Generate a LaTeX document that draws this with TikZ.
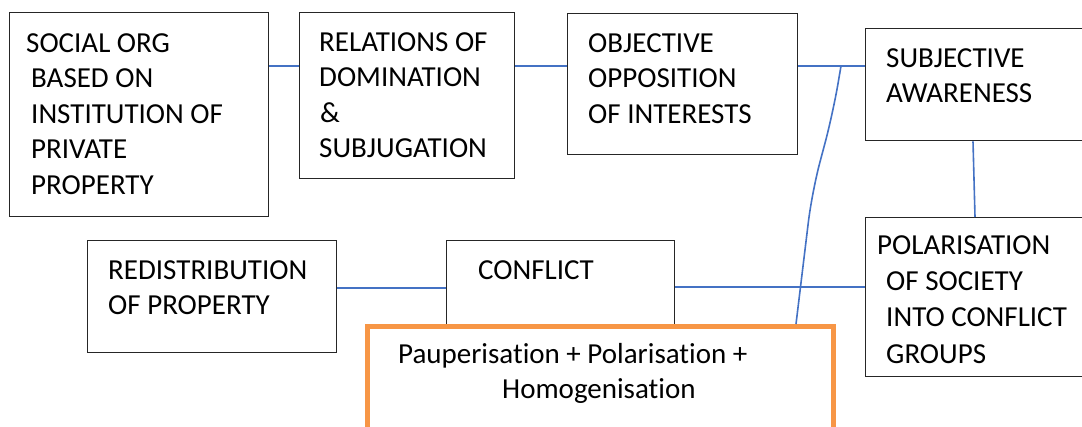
\documentclass[tikz,border=0pt]{standalone}
\usepackage{fontspec}
\setmainfont{Carlito}[Ligatures=NoCommon]
\usetikzlibrary{calc}
\definecolor{lblue}{HTML}{4472C4}
\definecolor{lorange}{HTML}{F79646}
\tikzset{
  box/.style={draw=black!85, line width=1.3pt, fill=white, anchor=north west, inner sep=0pt},
  obox/.style={draw=lorange, line width=5pt, fill=white, anchor=north west, inner sep=0pt},
  conn/.style={draw=lblue, line width=1.6pt},
  lbl/.style={anchor=north west, inner sep=0pt, align=left, font=\fontsize{29}{35.6}\selectfont},
}
\newcommand{\fl}{\rule{0pt}{20pt}}
\newcommand{\ind}[1]{\hspace*{#1pt}}
\begin{document}
\begin{tikzpicture}[x=1pt,y=-1pt]
\useasboundingbox (0,0) rectangle (1082,427);
\clip (0,0) rectangle (1082,427);
% boxes
\node[box, minimum width=259, minimum height=204] (b1) at (9,12) {};
\node[box, minimum width=215, minimum height=166] (b2) at (299,12) {};
\node[box, minimum width=230, minimum height=141] (b3) at (567,13) {};
\node[box, minimum width=240, minimum height=112] (b4) at (865,28) {};
\node[box, minimum width=240, minimum height=159] (b5) at (865,217) {};
\node[box, minimum width=249, minimum height=112] (b6) at (87,240) {};
\node[box, minimum width=228, minimum height=100] (b7) at (446,240) {};
% connectors
\coordinate (r1) at (0,66);
\coordinate (r2) at (0,288);
\coordinate (r3) at (0,287);
\coordinate (j) at (841,66);
\draw[conn] (b1.east |- r1) -- (b2.west |- r1);
\draw[conn] (b2.east |- r1) -- (b3.west |- r1);
\draw[conn] (b3.east |- r1) -- (b4.west |- r1);
\draw[conn] ($(b4.south west)+(108,0)$) -- ($(b5.north west)+(110,0)$);
\draw[conn] (b6.east |- r2) -- (b7.west |- r2);
\draw[conn] (b7.east |- r3) -- (b5.west |- r3);
% orange box
\node[obox, minimum width=466, minimum height=140] (o) at (365,324) {};
\draw[conn, rounded corners=30pt] (j) -- (833,113) -- (812,192) -- ($(o.north west)+(431,0)$);
% texts
\node[lbl] (t1) at (26,32) {\fl SOCIAL ORG\\ \ind{5}BASED ON\\ \ind{5}INSTITUTION OF\\ \ind{5}PRIVATE\\ \ind{5}PROPERTY};
\node[lbl] (t2) at (319,31) {\fl RELATIONS OF\\ DOMINATION\\ \ind{1}\&\\ SUBJUGATION};
\node[lbl] (t3) at (588,32) {\fl OBJECTIVE\\ OPPOSITION\\ OF INTERESTS};
\node[lbl] (t4) at (886,47) {\fl SUBJECTIVE\\ AWARENESS};
\node[lbl, font=\fontsize{29}{36.3}\selectfont] (t5) at (877,234) {\fl POLARISATION\\ \ind{9}OF SOCIETY\\ \ind{9}INTO CONFLICT\\ \ind{9}GROUPS};
\node[lbl] (t6) at (108,259) {\fl REDISTRIBUTION\\ OF PROPERTY};
\node[lbl] (t7) at (478,259) {\fl CONFLICT};
\node[lbl] (t8) at (398,343) {\fl Pauperisation + Polarisation +\\ \ind{104}Homogenisation};
\end{tikzpicture}
\end{document}
